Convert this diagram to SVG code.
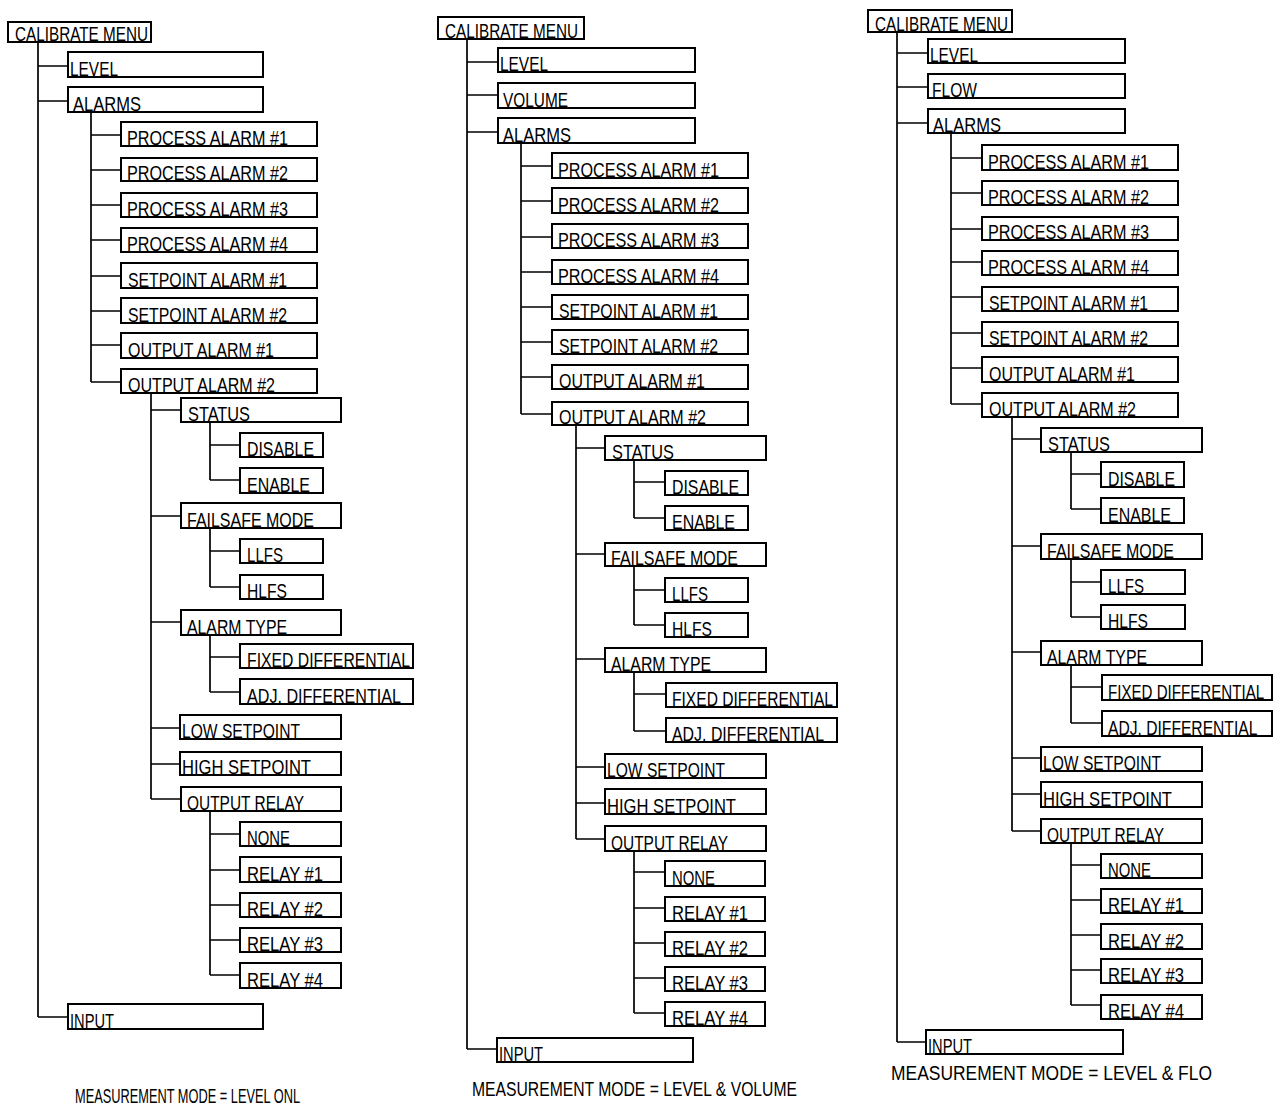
<svg xmlns="http://www.w3.org/2000/svg" width="1277" height="1120" viewBox="0 0 1277 1120">
<style>
.b{fill:#fff;stroke:#000;stroke-width:2}
.t{font-family:"Liberation Sans",Arial,sans-serif;font-size:21px;fill:#000}
.cap{font-family:"Liberation Sans",Arial,sans-serif;font-size:20px;fill:#000}
.c{fill:none;stroke:#000;stroke-width:1.7}
</style>
<rect width="1277" height="1120" fill="#fff"/>
<g id="connectors" class="c">
<path d="M38 42V1017M38 66H68M38 101H68M38 1017H68M91 112V382M91 135H121M91 170H121M91 205H121M91 240H121M91 276H121M91 311H121M91 345H121M91 382H121M151 393V799M151 410H181M151 516H181M151 622H181M151 728H180M151 764H180M151 799H181M210 422V480M210 445H240M210 480H240M210 528V587M210 551H240M210 587H240M210 635V692M210 657H240M210 692H240M210 811V975M210 834H240M210 870H240M210 905H240M210 940H240M210 975H240"/>
<path d="M467 39V1049M467 62H498M467 95H498M467 132H498M467 1049H497M521 143V414M521 166H552M521 201H552M521 237H552M521 272H552M521 307H552M521 342H552M521 377H552M521 414H552M576 425V839M576 448H605M576 554H605M576 659H605M576 767H605M576 803H605M576 839H605M634 460V518M634 482H665M634 518H665M634 566V625M634 590H665M634 625H665M634 672V731M634 694H666M634 731H666M634 851V1013M634 872H665M634 908H665M634 943H665M634 978H665M634 1013H665"/>
<path d="M897 32V1042M897 53H928M897 87H928M897 123H928M897 1042H926M951 133V404M951 158H982M951 193H982M951 229H982M951 262H982M951 297H982M951 333H982M951 368H982M951 404H982M1012 417V831M1012 439H1041M1012 546H1041M1012 652H1041M1012 758H1041M1012 794H1041M1012 831H1041M1071 452V509M1071 474H1101M1071 509H1101M1071 559V617M1071 582H1101M1071 617H1101M1071 665V723M1071 687H1102M1071 723H1102M1071 843V1005M1071 865H1101M1071 900H1101M1071 935H1101M1071 970H1101M1071 1005H1101"/>
</g>
<!-- LEFT TREE -->
<g id="l-calibrate"><rect class="b" x="8" y="22" width="143" height="20"/><text class="t" x="15" y="41" textLength="133" lengthAdjust="spacingAndGlyphs">CALIBRATE MENU</text></g>
<g id="l-level"><rect class="b" x="68" y="52" width="195" height="25"/><text class="t" x="70" y="76" textLength="48" lengthAdjust="spacingAndGlyphs">LEVEL</text></g>
<g id="l-alarms"><rect class="b" x="68" y="87" width="195" height="25"/><text class="t" x="73" y="111" textLength="68" lengthAdjust="spacingAndGlyphs">ALARMS</text></g>
<g id="l-pa1"><rect class="b" x="121" y="122" width="196" height="24"/><text class="t" x="127" y="145" textLength="161" lengthAdjust="spacingAndGlyphs">PROCESS ALARM #1</text></g>
<g id="l-pa2"><rect class="b" x="121" y="158" width="196" height="23"/><text class="t" x="127" y="180" textLength="161" lengthAdjust="spacingAndGlyphs">PROCESS ALARM #2</text></g>
<g id="l-pa3"><rect class="b" x="121" y="193" width="196" height="24"/><text class="t" x="127" y="216" textLength="161" lengthAdjust="spacingAndGlyphs">PROCESS ALARM #3</text></g>
<g id="l-pa4"><rect class="b" x="121" y="228" width="196" height="24"/><text class="t" x="127" y="251" textLength="161" lengthAdjust="spacingAndGlyphs">PROCESS ALARM #4</text></g>
<g id="l-sp1"><rect class="b" x="121" y="263" width="196" height="25"/><text class="t" x="128" y="287" textLength="159" lengthAdjust="spacingAndGlyphs">SETPOINT ALARM #1</text></g>
<g id="l-sp2"><rect class="b" x="121" y="298" width="196" height="25"/><text class="t" x="128" y="322" textLength="159" lengthAdjust="spacingAndGlyphs">SETPOINT ALARM #2</text></g>
<g id="l-oa1"><rect class="b" x="121" y="333" width="196" height="25"/><text class="t" x="128" y="357" textLength="146" lengthAdjust="spacingAndGlyphs">OUTPUT ALARM #1</text></g>
<g id="l-oa2"><rect class="b" x="121" y="369" width="196" height="24"/><text class="t" x="128" y="392" textLength="147" lengthAdjust="spacingAndGlyphs">OUTPUT ALARM #2</text></g>
<g id="l-status"><rect class="b" x="181" y="398" width="160" height="24"/><text class="t" x="188" y="421" textLength="62" lengthAdjust="spacingAndGlyphs">STATUS</text></g>
<g id="l-disable"><rect class="b" x="240" y="433" width="83" height="24"/><text class="t" x="247" y="456" textLength="67" lengthAdjust="spacingAndGlyphs">DISABLE</text></g>
<g id="l-enable"><rect class="b" x="240" y="468" width="83" height="25"/><text class="t" x="247" y="492" textLength="63" lengthAdjust="spacingAndGlyphs">ENABLE</text></g>
<g id="l-failsafe"><rect class="b" x="181" y="503" width="160" height="25"/><text class="t" x="187" y="527" textLength="127" lengthAdjust="spacingAndGlyphs">FAILSAFE MODE</text></g>
<g id="l-llfs"><rect class="b" x="240" y="539" width="83" height="24"/><text class="t" x="247" y="562" textLength="36" lengthAdjust="spacingAndGlyphs">LLFS</text></g>
<g id="l-hlfs"><rect class="b" x="240" y="575" width="83" height="24"/><text class="t" x="247" y="598" textLength="40" lengthAdjust="spacingAndGlyphs">HLFS</text></g>
<g id="l-alarmtype"><rect class="b" x="181" y="610" width="160" height="25"/><text class="t" x="187" y="634" textLength="100" lengthAdjust="spacingAndGlyphs">ALARM TYPE</text></g>
<g id="l-fixed"><rect class="b" x="240" y="644" width="173" height="24"/><text class="t" x="247" y="667" textLength="163" lengthAdjust="spacingAndGlyphs">FIXED DIFFERENTIAL</text></g>
<g id="l-adj"><rect class="b" x="240" y="679" width="173" height="25"/><text class="t" x="247" y="703" textLength="154" lengthAdjust="spacingAndGlyphs">ADJ. DIFFERENTIAL</text></g>
<g id="l-lowsp"><rect class="b" x="180" y="715" width="161" height="24"/><text class="t" x="182" y="738" textLength="118" lengthAdjust="spacingAndGlyphs">LOW SETPOINT</text></g>
<g id="l-highsp"><rect class="b" x="180" y="752" width="161" height="23"/><text class="t" x="182" y="774" textLength="129" lengthAdjust="spacingAndGlyphs">HIGH SETPOINT</text></g>
<g id="l-outrelay"><rect class="b" x="181" y="787" width="160" height="24"/><text class="t" x="187" y="810" textLength="117" lengthAdjust="spacingAndGlyphs">OUTPUT RELAY</text></g>
<g id="l-none"><rect class="b" x="240" y="822" width="101" height="24"/><text class="t" x="247" y="845" textLength="43" lengthAdjust="spacingAndGlyphs">NONE</text></g>
<g id="l-r1"><rect class="b" x="240" y="857" width="101" height="25"/><text class="t" x="247" y="881" textLength="76" lengthAdjust="spacingAndGlyphs">RELAY #1</text></g>
<g id="l-r2"><rect class="b" x="240" y="893" width="101" height="24"/><text class="t" x="247" y="916" textLength="76" lengthAdjust="spacingAndGlyphs">RELAY #2</text></g>
<g id="l-r3"><rect class="b" x="240" y="928" width="101" height="24"/><text class="t" x="247" y="951" textLength="76" lengthAdjust="spacingAndGlyphs">RELAY #3</text></g>
<g id="l-r4"><rect class="b" x="240" y="963" width="101" height="25"/><text class="t" x="247" y="987" textLength="76" lengthAdjust="spacingAndGlyphs">RELAY #4</text></g>
<g id="l-input"><rect class="b" x="68" y="1004" width="195" height="25"/><text class="t" x="70" y="1028" textLength="44" lengthAdjust="spacingAndGlyphs">INPUT</text></g>
<!-- MIDDLE TREE -->
<g id="m-calibrate"><rect class="b" x="438" y="17" width="146" height="22"/><text class="t" x="445" y="38" textLength="133" lengthAdjust="spacingAndGlyphs">CALIBRATE MENU</text></g>
<g id="m-level"><rect class="b" x="498" y="48" width="197" height="24"/><text class="t" x="500" y="71" textLength="48" lengthAdjust="spacingAndGlyphs">LEVEL</text></g>
<g id="m-volume"><rect class="b" x="498" y="83" width="197" height="25"/><text class="t" x="503" y="107" textLength="65" lengthAdjust="spacingAndGlyphs">VOLUME</text></g>
<g id="m-alarms"><rect class="b" x="498" y="118" width="197" height="25"/><text class="t" x="503" y="142" textLength="68" lengthAdjust="spacingAndGlyphs">ALARMS</text></g>
<g id="m-pa1"><rect class="b" x="552" y="153" width="196" height="25"/><text class="t" x="558" y="177" textLength="161" lengthAdjust="spacingAndGlyphs">PROCESS ALARM #1</text></g>
<g id="m-pa2"><rect class="b" x="552" y="188" width="196" height="25"/><text class="t" x="558" y="212" textLength="161" lengthAdjust="spacingAndGlyphs">PROCESS ALARM #2</text></g>
<g id="m-pa3"><rect class="b" x="552" y="224" width="196" height="24"/><text class="t" x="558" y="247" textLength="161" lengthAdjust="spacingAndGlyphs">PROCESS ALARM #3</text></g>
<g id="m-pa4"><rect class="b" x="552" y="260" width="196" height="24"/><text class="t" x="558" y="283" textLength="161" lengthAdjust="spacingAndGlyphs">PROCESS ALARM #4</text></g>
<g id="m-sp1"><rect class="b" x="552" y="295" width="196" height="24"/><text class="t" x="559" y="318" textLength="159" lengthAdjust="spacingAndGlyphs">SETPOINT ALARM #1</text></g>
<g id="m-sp2"><rect class="b" x="552" y="330" width="196" height="24"/><text class="t" x="559" y="353" textLength="159" lengthAdjust="spacingAndGlyphs">SETPOINT ALARM #2</text></g>
<g id="m-oa1"><rect class="b" x="552" y="365" width="196" height="24"/><text class="t" x="559" y="388" textLength="146" lengthAdjust="spacingAndGlyphs">OUTPUT ALARM #1</text></g>
<g id="m-oa2"><rect class="b" x="552" y="402" width="196" height="23"/><text class="t" x="559" y="424" textLength="147" lengthAdjust="spacingAndGlyphs">OUTPUT ALARM #2</text></g>
<g id="m-status"><rect class="b" x="605" y="436" width="161" height="24"/><text class="t" x="612" y="459" textLength="62" lengthAdjust="spacingAndGlyphs">STATUS</text></g>
<g id="m-disable"><rect class="b" x="665" y="471" width="83" height="24"/><text class="t" x="672" y="494" textLength="67" lengthAdjust="spacingAndGlyphs">DISABLE</text></g>
<g id="m-enable"><rect class="b" x="665" y="506" width="83" height="24"/><text class="t" x="672" y="529" textLength="63" lengthAdjust="spacingAndGlyphs">ENABLE</text></g>
<g id="m-failsafe"><rect class="b" x="605" y="543" width="161" height="23"/><text class="t" x="611" y="565" textLength="127" lengthAdjust="spacingAndGlyphs">FAILSAFE MODE</text></g>
<g id="m-llfs"><rect class="b" x="665" y="578" width="83" height="24"/><text class="t" x="672" y="601" textLength="36" lengthAdjust="spacingAndGlyphs">LLFS</text></g>
<g id="m-hlfs"><rect class="b" x="665" y="613" width="83" height="24"/><text class="t" x="672" y="636" textLength="40" lengthAdjust="spacingAndGlyphs">HLFS</text></g>
<g id="m-alarmtype"><rect class="b" x="605" y="648" width="161" height="24"/><text class="t" x="611" y="671" textLength="100" lengthAdjust="spacingAndGlyphs">ALARM TYPE</text></g>
<g id="m-fixed"><rect class="b" x="666" y="683" width="171" height="24"/><text class="t" x="672" y="706" textLength="161" lengthAdjust="spacingAndGlyphs">FIXED DIFFERENTIAL</text></g>
<g id="m-adj"><rect class="b" x="666" y="718" width="171" height="24"/><text class="t" x="672" y="741" textLength="152" lengthAdjust="spacingAndGlyphs">ADJ. DIFFERENTIAL</text></g>
<g id="m-lowsp"><rect class="b" x="605" y="754" width="161" height="24"/><text class="t" x="607" y="777" textLength="118" lengthAdjust="spacingAndGlyphs">LOW SETPOINT</text></g>
<g id="m-highsp"><rect class="b" x="605" y="789" width="161" height="25"/><text class="t" x="607" y="813" textLength="129" lengthAdjust="spacingAndGlyphs">HIGH SETPOINT</text></g>
<g id="m-outrelay"><rect class="b" x="605" y="826" width="161" height="25"/><text class="t" x="611" y="850" textLength="117" lengthAdjust="spacingAndGlyphs">OUTPUT RELAY</text></g>
<g id="m-none"><rect class="b" x="665" y="861" width="100" height="25"/><text class="t" x="672" y="885" textLength="43" lengthAdjust="spacingAndGlyphs">NONE</text></g>
<g id="m-r1"><rect class="b" x="665" y="897" width="100" height="24"/><text class="t" x="672" y="920" textLength="76" lengthAdjust="spacingAndGlyphs">RELAY #1</text></g>
<g id="m-r2"><rect class="b" x="665" y="932" width="100" height="24"/><text class="t" x="672" y="955" textLength="76" lengthAdjust="spacingAndGlyphs">RELAY #2</text></g>
<g id="m-r3"><rect class="b" x="665" y="967" width="100" height="24"/><text class="t" x="672" y="990" textLength="76" lengthAdjust="spacingAndGlyphs">RELAY #3</text></g>
<g id="m-r4"><rect class="b" x="665" y="1002" width="100" height="24"/><text class="t" x="672" y="1025" textLength="76" lengthAdjust="spacingAndGlyphs">RELAY #4</text></g>
<g id="m-input"><rect class="b" x="497" y="1038" width="196" height="24"/><text class="t" x="499" y="1061" textLength="44" lengthAdjust="spacingAndGlyphs">INPUT</text></g>
<!-- RIGHT TREE -->
<g id="r-calibrate"><rect class="b" x="868" y="10" width="144" height="22"/><text class="t" x="875" y="31" textLength="133" lengthAdjust="spacingAndGlyphs">CALIBRATE MENU</text></g>
<g id="r-level"><rect class="b" x="928" y="39" width="197" height="24"/><text class="t" x="930" y="62" textLength="48" lengthAdjust="spacingAndGlyphs">LEVEL</text></g>
<g id="r-flow"><rect class="b" x="928" y="74" width="197" height="24"/><text class="t" x="932" y="97" textLength="45" lengthAdjust="spacingAndGlyphs">FLOW</text></g>
<g id="r-alarms"><rect class="b" x="928" y="109" width="197" height="24"/><text class="t" x="933" y="132" textLength="68" lengthAdjust="spacingAndGlyphs">ALARMS</text></g>
<g id="r-pa1"><rect class="b" x="982" y="145" width="196" height="25"/><text class="t" x="988" y="169" textLength="161" lengthAdjust="spacingAndGlyphs">PROCESS ALARM #1</text></g>
<g id="r-pa2"><rect class="b" x="982" y="181" width="196" height="24"/><text class="t" x="988" y="204" textLength="161" lengthAdjust="spacingAndGlyphs">PROCESS ALARM #2</text></g>
<g id="r-pa3"><rect class="b" x="982" y="217" width="196" height="23"/><text class="t" x="988" y="239" textLength="161" lengthAdjust="spacingAndGlyphs">PROCESS ALARM #3</text></g>
<g id="r-pa4"><rect class="b" x="982" y="251" width="196" height="24"/><text class="t" x="988" y="274" textLength="161" lengthAdjust="spacingAndGlyphs">PROCESS ALARM #4</text></g>
<g id="r-sp1"><rect class="b" x="982" y="287" width="196" height="24"/><text class="t" x="989" y="310" textLength="159" lengthAdjust="spacingAndGlyphs">SETPOINT ALARM #1</text></g>
<g id="r-sp2"><rect class="b" x="982" y="322" width="196" height="24"/><text class="t" x="989" y="345" textLength="159" lengthAdjust="spacingAndGlyphs">SETPOINT ALARM #2</text></g>
<g id="r-oa1"><rect class="b" x="982" y="357" width="196" height="25"/><text class="t" x="989" y="381" textLength="146" lengthAdjust="spacingAndGlyphs">OUTPUT ALARM #1</text></g>
<g id="r-oa2"><rect class="b" x="982" y="393" width="196" height="24"/><text class="t" x="989" y="416" textLength="147" lengthAdjust="spacingAndGlyphs">OUTPUT ALARM #2</text></g>
<g id="r-status"><rect class="b" x="1041" y="428" width="161" height="24"/><text class="t" x="1048" y="451" textLength="62" lengthAdjust="spacingAndGlyphs">STATUS</text></g>
<g id="r-disable"><rect class="b" x="1101" y="462" width="83" height="25"/><text class="t" x="1108" y="486" textLength="67" lengthAdjust="spacingAndGlyphs">DISABLE</text></g>
<g id="r-enable"><rect class="b" x="1101" y="498" width="83" height="25"/><text class="t" x="1108" y="522" textLength="63" lengthAdjust="spacingAndGlyphs">ENABLE</text></g>
<g id="r-failsafe"><rect class="b" x="1041" y="534" width="161" height="25"/><text class="t" x="1047" y="558" textLength="127" lengthAdjust="spacingAndGlyphs">FAILSAFE MODE</text></g>
<g id="r-llfs"><rect class="b" x="1101" y="570" width="84" height="24"/><text class="t" x="1108" y="593" textLength="36" lengthAdjust="spacingAndGlyphs">LLFS</text></g>
<g id="r-hlfs"><rect class="b" x="1101" y="605" width="84" height="24"/><text class="t" x="1108" y="628" textLength="40" lengthAdjust="spacingAndGlyphs">HLFS</text></g>
<g id="r-alarmtype"><rect class="b" x="1041" y="641" width="161" height="24"/><text class="t" x="1047" y="664" textLength="100" lengthAdjust="spacingAndGlyphs">ALARM TYPE</text></g>
<g id="r-fixed"><rect class="b" x="1102" y="675" width="170" height="25"/><text class="t" transform="translate(1108 699) scale(0.72 1)" x="0" y="0">FIXED DIFFERENTIAL</text></g>
<g id="r-adj"><rect class="b" x="1102" y="711" width="170" height="25"/><text class="t" transform="translate(1108 735) scale(0.745 1)" x="0" y="0">ADJ. DIFFERENTIAL</text></g>
<g id="r-lowsp"><rect class="b" x="1041" y="747" width="161" height="24"/><text class="t" x="1043" y="770" textLength="118" lengthAdjust="spacingAndGlyphs">LOW SETPOINT</text></g>
<g id="r-highsp"><rect class="b" x="1041" y="782" width="161" height="25"/><text class="t" x="1043" y="806" textLength="129" lengthAdjust="spacingAndGlyphs">HIGH SETPOINT</text></g>
<g id="r-outrelay"><rect class="b" x="1041" y="819" width="161" height="24"/><text class="t" x="1047" y="842" textLength="117" lengthAdjust="spacingAndGlyphs">OUTPUT RELAY</text></g>
<g id="r-none"><rect class="b" x="1101" y="854" width="101" height="24"/><text class="t" x="1108" y="877" textLength="43" lengthAdjust="spacingAndGlyphs">NONE</text></g>
<g id="r-r1"><rect class="b" x="1101" y="889" width="101" height="24"/><text class="t" x="1108" y="912" textLength="76" lengthAdjust="spacingAndGlyphs">RELAY #1</text></g>
<g id="r-r2"><rect class="b" x="1101" y="924" width="101" height="25"/><text class="t" x="1108" y="948" textLength="76" lengthAdjust="spacingAndGlyphs">RELAY #2</text></g>
<g id="r-r3"><rect class="b" x="1101" y="959" width="101" height="24"/><text class="t" x="1108" y="982" textLength="76" lengthAdjust="spacingAndGlyphs">RELAY #3</text></g>
<g id="r-r4"><rect class="b" x="1101" y="995" width="101" height="24"/><text class="t" x="1108" y="1018" textLength="76" lengthAdjust="spacingAndGlyphs">RELAY #4</text></g>
<g id="r-input"><rect class="b" x="926" y="1030" width="197" height="24"/><text class="t" x="928" y="1053" textLength="44" lengthAdjust="spacingAndGlyphs">INPUT</text></g>
<!-- CAPTIONS -->
<g id="captions">
<text class="cap" x="75" y="1103" textLength="225" lengthAdjust="spacingAndGlyphs">MEASUREMENT MODE = LEVEL ONL</text>
<text class="cap" x="472" y="1096" textLength="325" lengthAdjust="spacingAndGlyphs">MEASUREMENT MODE = LEVEL &amp; VOLUME</text>
<text class="cap" x="891" y="1080" textLength="321" lengthAdjust="spacingAndGlyphs">MEASUREMENT MODE = LEVEL &amp; FLO</text>
</g>
</svg>
